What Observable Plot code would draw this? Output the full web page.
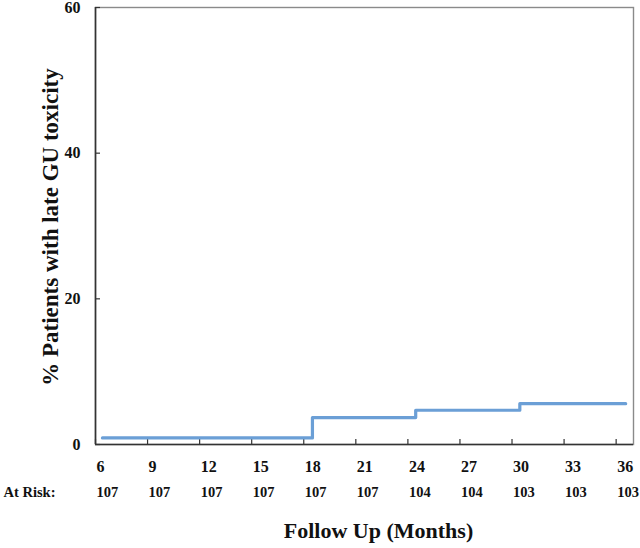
<!DOCTYPE html>
<html>
<head>
<meta charset="utf-8">
<script src="https://cdn.jsdelivr.net/npm/d3@7"></script>
<script src="https://cdn.jsdelivr.net/npm/@observablehq/plot@0.6"></script>
<style>
  html, body { margin: 0; padding: 0; background: #fff; }
  #chart svg { display: block; }
</style>
</head>
<body>
<div id="chart"></div>
<script>
// Step curve (cumulative % with late GU toxicity)
const stepMonths = [6.4, 18.5, 24.45, 30.45, 36.55];
const stepValues = [0.9, 3.7, 4.7, 5.6, 5.6];

// Axis ticks
const xTicks = [6, 9, 12, 15, 18, 21, 24, 27, 30, 33, 36];
const yTicks = [0, 20, 40, 60];

// Numbers at risk under each x tick
const atRisk = [107, 107, 107, 107, 107, 107, 104, 104, 103, 103, 103];

const curve = stepMonths.map((m, i) => ({month: m, pct: stepValues[i]}));
const riskRows = xTicks.map((m, i) => ({month: m, n: atRisk[i]}));

const W = 640, H = 548;
const mL = 95, mR = 7, mT = 7, mB = 104;
const innerW = W - mL - mR, innerH = H - mT - mB;
const font = "'Liberation Serif', 'Times New Roman', serif";

const chart = Plot.plot({
  width: W,
  height: H,
  marginLeft: mL,
  marginRight: mR,
  marginTop: mT,
  marginBottom: mB,
  style: {fontFamily: font, fontWeight: "bold", color: "#111", background: "#fff"},
  x: {domain: [6, 37], axis: null},
  y: {domain: [0, 60], axis: null},
  marks: [
    Plot.frame({stroke: "#8a8a8a", strokeWidth: 1.4}),
    Plot.ruleX([6], {stroke: "#333", strokeWidth: 1.6}),
    Plot.ruleY([0], {stroke: "#333", strokeWidth: 1.6}),
    Plot.tickX(xTicks, {x: d => d, insetTop: innerH - 5, stroke: "#333", strokeWidth: 1.2}),
    Plot.tickY(yTicks, {y: d => d, insetRight: innerW - 5, stroke: "#333", strokeWidth: 1.2}),
    Plot.line(curve, {x: "month", y: "pct", curve: "step-after", stroke: "#6b9fd6", strokeWidth: 3.2}),
    // x tick labels
    Plot.text(xTicks, {x: d => d, text: d => String(d), frameAnchor: "bottom", dy: 22, dx: 1,
      textAnchor: "start", lineAnchor: "middle", fontSize: 16, fontWeight: "bold", fill: "#111"}),
    // y tick labels
    Plot.text(yTicks, {y: d => d, text: d => String(d), frameAnchor: "left", dx: -15,
      textAnchor: "end", lineAnchor: "middle", fontSize: 16, fontWeight: "bold", fill: "#111"}),
    // at risk row
    Plot.text(riskRows, {x: "month", text: d => String(d.n), frameAnchor: "bottom", dy: 48, dx: 1,
      textAnchor: "start", lineAnchor: "middle", fontSize: 14.5, fontWeight: "bold", fill: "#111"}),
    Plot.text(["At Risk:"], {frameAnchor: "bottom-left", dx: -92, dy: 48, textAnchor: "start",
      lineAnchor: "middle", fontSize: 14.5, fontWeight: "bold", fill: "#111"}),
    // axis titles
    Plot.text(["Follow Up (Months)"], {frameAnchor: "bottom", dx: 14, dy: 93, lineAnchor: "bottom",
      textAnchor: "middle", fontSize: 22, fontWeight: "bold", fill: "#111"}),
    Plot.text(["% Patients with late GU toxicity"], {frameAnchor: "left", dx: -38, dy: 1, rotate: -90,
      textAnchor: "middle", lineAnchor: "bottom", fontSize: 23, fontWeight: "bold", fill: "#111"})
  ]
});

document.getElementById("chart").appendChild(chart);
</script>
</body>
</html>
